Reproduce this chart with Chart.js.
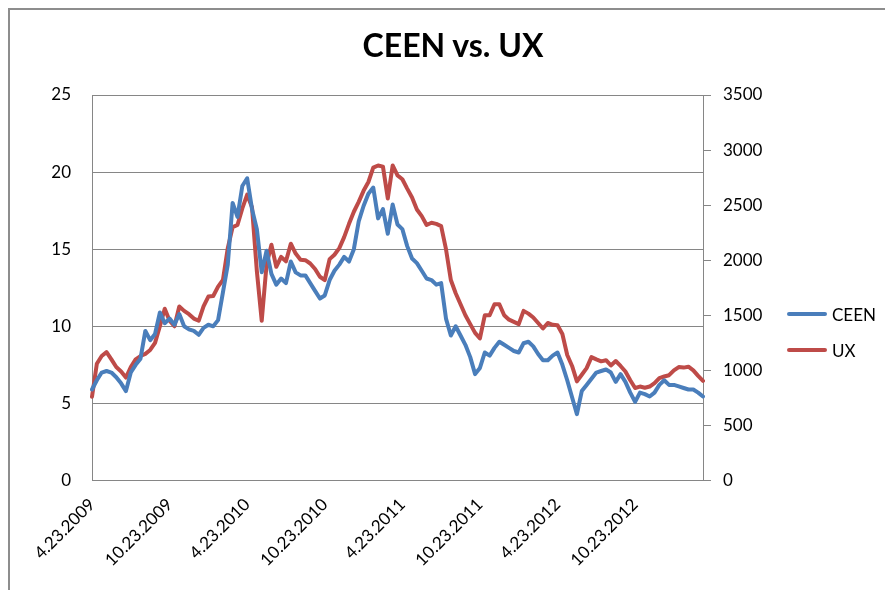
<!DOCTYPE html>
<html>
<head>
<meta charset="utf-8">
<title>CEEN vs. UX</title>
<script src="https://cdn.jsdelivr.net/npm/chart.js@4.4.1/dist/chart.umd.min.js"></script>
<style>
    html, body {
        margin: 0;
        padding: 0;
        background: #ffffff;
    }
    #wrap {
        position: relative;
        width: 885px;
        height: 590px;
        overflow: hidden;
        font-family: Lato, "Noto Sans", sans-serif;
    }
    #frame {
        position: absolute;
        left: 8px;
        top: 8px;
        width: 950px;
        height: 650px;
        border: 2px solid #8d8d8d;
        box-sizing: border-box;
    }
    #chart-title {
        position: absolute;
        left: 0;
        width: 906px;
        top: 25px;
        margin: 0;
        text-align: center;
        font-size: 32px;
        font-weight: bold;
        color: #000;
    }
    #legend-container {
        position: absolute;
        left: 787px;
        top: 302px;
    }
    canvas {
        position: absolute;
        left: 0;
        top: 0;
    }
</style>
</head>
<body>
<div id="wrap">
    <div id="frame"></div>
    <canvas id="line-chart" width="885" height="590"></canvas>
    <h2 id="chart-title">CEEN vs. UX</h2>
    <div id="legend-container"></div>
</div>
<script>
    // подписи оси X (каждые полгода), между ними 16 точек
    const tickLabels = ['4.23.2009', '10.23.2009', '4.23.2010', '10.23.2010',
        '4.23.2011', '10.23.2011', '4.23.2012', '10.23.2012'];
    const pointsPerLabel = 16;

    // CEEN, левая ось
    const ceen = [
        5.9, 6.5, 7.0, 7.1, 7.0, 6.7, 6.3, 5.8, 7.0, 7.5,
        7.9, 9.7, 9.1, 9.5, 10.9, 10.2, 10.5, 10.1, 10.8, 10.0,
        9.8, 9.7, 9.45, 9.9, 10.1, 10.0, 10.4, 12.2, 14.0, 18.0,
        17.1, 19.1, 19.6, 17.6, 16.3, 13.5, 14.9, 13.4, 12.7, 13.1,
        12.8, 14.2, 13.5, 13.3, 13.3, 12.8, 12.3, 11.8, 12.0, 13.0,
        13.6, 14.0, 14.5, 14.2, 15.0, 16.8, 17.8, 18.6, 19.0, 17.0,
        17.6, 16.0, 17.9, 16.6, 16.3, 15.2, 14.4, 14.1, 13.6, 13.1,
        13.0, 12.7, 12.8, 10.5, 9.4, 10.0, 9.4, 8.8, 8.0, 6.9,
        7.3, 8.3, 8.1, 8.6, 9.0, 8.8, 8.6, 8.4, 8.3, 8.9,
        9.0, 8.7, 8.2, 7.8, 7.8, 8.1, 8.3, 7.5, 6.5, 5.4,
        4.3, 5.8, 6.2, 6.6, 7.0, 7.1, 7.2, 7.0, 6.4, 6.9,
        6.4, 5.7, 5.1, 5.7, 5.6, 5.45, 5.7, 6.2, 6.5, 6.2,
        6.2, 6.1, 6.0, 5.9, 5.9, 5.7, 5.45
    ];

    // UX, правая ось
    const ux = [
        760, 1060, 1130, 1165, 1100, 1030, 990, 935, 1030, 1100,
        1130, 1150, 1185, 1250, 1400, 1560, 1450, 1400, 1580, 1540,
        1510, 1470, 1450, 1580, 1670, 1675, 1760, 1820, 2110, 2300,
        2320, 2470, 2595, 2480, 1900, 1450, 1960, 2140, 1940, 2030,
        1990, 2150, 2060, 2005, 2000, 1970, 1920, 1850, 1820, 2010,
        2050, 2110, 2210, 2330, 2440, 2530, 2630, 2710, 2840, 2860,
        2850, 2560, 2860, 2770, 2735, 2650, 2570, 2460, 2400, 2320,
        2340, 2330, 2310, 2100, 1820, 1700, 1600, 1500, 1420, 1340,
        1290, 1500, 1500, 1600, 1600, 1500, 1460, 1440, 1420, 1540,
        1515, 1480, 1430, 1380, 1430, 1414, 1410, 1330, 1140, 1040,
        900, 960, 1020, 1120, 1100, 1082, 1092, 1045, 1085, 1040,
        990, 910, 840, 853, 842, 853, 884, 930, 944, 956,
        1000, 1030, 1025, 1033, 1000, 950, 905
    ];

    const categories = ceen.map((v, i) => i % pointsPerLabel === 0 ? (tickLabels[i / pointsPerLabel] || '') : '');

    const gridColor = '#868686';
    const tickFont = {family: 'Lato', size: 17};

    const htmlLegendPlugin = {
        id: 'htmlLegend',
        afterUpdate(chart, args, options) {
            const box = document.getElementById(options.containerID);
            while (box.firstChild) {
                box.firstChild.remove();
            }
            const items = chart.options.plugins.legend.labels.generateLabels(chart);
            items.forEach((item, index) => {
                const row = document.createElement('div');
                row.style.display = 'flex';
                row.style.alignItems = 'center';
                row.style.height = '24px';
                row.style.marginBottom = index === items.length - 1 ? '0' : '12px';

                const line = document.createElement('span');
                line.style.display = 'inline-block';
                line.style.width = '40px';
                line.style.height = '4px';
                line.style.borderRadius = '2px';
                line.style.background = item.strokeStyle;
                line.style.marginRight = '5px';

                const text = document.createElement('span');
                text.style.fontSize = '17px';
                text.style.color = '#000';
                text.textContent = item.text;

                row.appendChild(line);
                row.appendChild(text);
                box.appendChild(row);
            });
        }
    };

    new Chart(document.getElementById('line-chart'), {
        type: 'line',
        data: {
            labels: categories,
            datasets: [{
                label: 'CEEN',
                data: ceen,
                yAxisID: 'y',
                borderColor: '#4a7ebb',
                backgroundColor: '#4a7ebb',
                borderWidth: 4,
                borderCapStyle: 'round',
                borderJoinStyle: 'round',
                pointRadius: 0,
                tension: 0,
            }, {
                label: 'UX',
                data: ux,
                yAxisID: 'y1',
                borderColor: '#be4b48',
                backgroundColor: '#be4b48',
                borderWidth: 4,
                borderCapStyle: 'round',
                borderJoinStyle: 'round',
                pointRadius: 0,
                tension: 0,
            }]
        },
        options: {
            responsive: false,
            animation: false,
            layout: {
                padding: {top: 95, left: 0, right: 122, bottom: 0}
            },
            plugins: {
                legend: {display: false},
                title: {display: false},
                tooltip: {enabled: false},
                htmlLegend: {containerID: 'legend-container'},
            },
            scales: {
                x: {
                    offset: false,
                    grid: {display: false, drawTicks: false},
                    border: {color: gridColor, width: 1},
                    ticks: {
                        autoSkip: false,
                        minRotation: 45,
                        maxRotation: 45,
                        padding: 14,
                        color: '#000',
                        font: tickFont,
                    },
                    afterFit(scale) {
                        scale.height = 109.5;
                    }
                },
                y: {
                    position: 'left',
                    min: 0,
                    max: 25,
                    ticks: {stepSize: 5, padding: 21, color: '#000', font: tickFont},
                    grid: {color: gridColor, drawTicks: false},
                    border: {color: gridColor, width: 1},
                    afterFit(scale) {
                        scale.width = 92;
                    }
                },
                y1: {
                    position: 'right',
                    min: 0,
                    max: 3500,
                    ticks: {
                        stepSize: 500,
                        padding: 12,
                        color: '#000',
                        font: tickFont,
                        callback: (value) => String(value),
                    },
                    grid: {drawOnChartArea: false, color: gridColor, tickLength: 8},
                    border: {color: gridColor, width: 1},
                    afterFit(scale) {
                        scale.width = 60;
                    }
                }
            }
        },
        plugins: [htmlLegendPlugin],
    });
</script>
</body>
</html>
